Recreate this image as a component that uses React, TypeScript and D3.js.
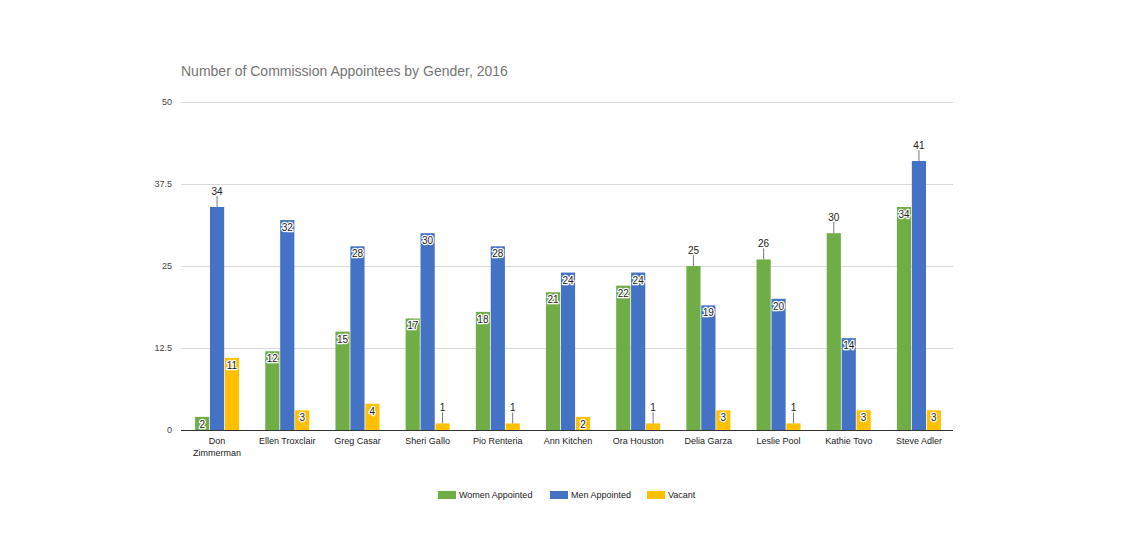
import { useEffect, useRef } from 'react';
import * as d3 from 'd3';

const categories = [
  'Don Zimmerman', 'Ellen Troxclair', 'Greg Casar', 'Sheri Gallo', 'Pio Renteria',
  'Ann Kitchen', 'Ora Houston', 'Delia Garza', 'Leslie Pool', 'Kathie Tovo', 'Steve Adler',
];
const seriesNames = ['Women Appointed', 'Men Appointed', 'Vacant'];
const women = [2, 12, 15, 17, 18, 21, 22, 25, 26, 30, 34];
const men = [34, 32, 28, 30, 28, 24, 24, 19, 20, 14, 41];
const vacant = [11, 3, 4, 1, 1, 2, 1, 3, 1, 3, 3];
const yTicks = [0, 12.5, 25, 37.5, 50];
// labels Google put above the bar with a leader line: [category index, series index]
const outsideLabels = [[0, 1], [3, 2], [4, 2], [6, 2], [7, 0], [8, 0], [8, 2], [9, 0], [10, 1]];
const wrappedNames = ['Don Zimmerman'];

const colors = ['#70ad47', '#4472c4', '#ffc000'];

export default function App() {
  const svgRef = useRef<SVGSVGElement>(null);

  useEffect(() => {
    if (!svgRef.current) return;
    const svg = d3.select(svgRef.current);
    svg.selectAll('*').remove();

    const left = 181, right = 953, top = 102, bottom = 430;
    const font = 'Arial, "Liberation Sans", sans-serif';
    const values = [women, men, vacant];

    const x = d3.scaleBand<string>().domain(categories).range([left, right]);
    const inner = d3.scaleBand<number>().domain([0, 1, 2]).range([0, 44]).paddingInner(0.05);
    const y = d3.scaleLinear().domain([0, 50]).range([bottom, top]);

    // title
    svg.append('text')
      .attr('x', left).attr('y', 76)
      .attr('font-family', font).attr('font-size', 14)
      .attr('fill', '#757575')
      .text('Number of Commission Appointees by Gender, 2016');

    // gridlines + tick labels
    yTicks.forEach(t => {
      if (t > 0) {
        svg.append('line')
          .attr('x1', left).attr('x2', right)
          .attr('y1', y(t) + 0.5).attr('y2', y(t) + 0.5)
          .attr('stroke', '#d9d9d9');
      }
      svg.append('text')
        .attr('x', 172).attr('y', y(t) + 3)
        .attr('text-anchor', 'end')
        .attr('font-family', font).attr('font-size', 9)
        .attr('fill', '#444')
        .text(String(t));
    });

    const isOutside = (i: number, s: number) => outsideLabels.some(o => o[0] === i && o[1] === s);

    categories.forEach((c, i) => {
      const gx = x(c)! + (x.bandwidth() - 44) / 2 + 1;
      values.forEach((vals, s) => {
        const v = vals[i];
        const bx = gx + inner(s)!;
        const bw = inner.bandwidth();
        svg.append('rect')
          .attr('x', bx).attr('y', y(v))
          .attr('width', bw).attr('height', y(0) - y(v))
          .attr('fill', colors[s]);

        const cx = bx + bw / 2;
        if (isOutside(i, s)) {
          svg.append('line')
            .attr('x1', cx).attr('x2', cx)
            .attr('y1', y(v) - 11).attr('y2', y(v))
            .attr('stroke', '#777');
          svg.append('text')
            .attr('x', cx).attr('y', y(v) - 12)
            .attr('text-anchor', 'middle')
            .attr('font-family', font).attr('font-size', 10)
            .attr('fill', '#222')
            .text(String(v));
        } else {
          svg.append('text')
            .attr('x', cx).attr('y', y(v) + 11)
            .attr('text-anchor', 'middle')
            .attr('font-family', font).attr('font-size', 10)
            .attr('fill', '#222')
            .attr('stroke', '#fff').attr('stroke-width', 2.5)
            .attr('paint-order', 'stroke')
            .attr('stroke-linejoin', 'round')
            .text(String(v));
        }
      });

      // category labels
      const lines = wrappedNames.includes(c) ? c.split(' ') : [c];
      lines.forEach((ln, k) => {
        svg.append('text')
          .attr('x', x(c)! + x.bandwidth() / 2 + 1).attr('y', 444 + k * 12)
          .attr('text-anchor', 'middle')
          .attr('font-family', font).attr('font-size', 9)
          .attr('fill', '#222')
          .text(ln);
      });
    });

    // baseline
    svg.append('line')
      .attr('x1', left).attr('x2', right)
      .attr('y1', bottom + 0.5).attr('y2', bottom + 0.5)
      .attr('stroke', '#333');

    // legend
    const legendX = [438, 550, 647];
    seriesNames.forEach((n, s) => {
      svg.append('rect')
        .attr('x', legendX[s]).attr('y', 491)
        .attr('width', 18).attr('height', 8)
        .attr('fill', colors[s]);
      svg.append('text')
        .attr('x', legendX[s] + 21).attr('y', 498)
        .attr('font-family', font).attr('font-size', 9)
        .attr('fill', '#222')
        .text(n);
    });
  }, []);

  return (
    <svg ref={svgRef} width={1136} height={533}
      style={{ position: 'absolute', left: 0, top: 0, background: '#fff' }} />
  );
}
